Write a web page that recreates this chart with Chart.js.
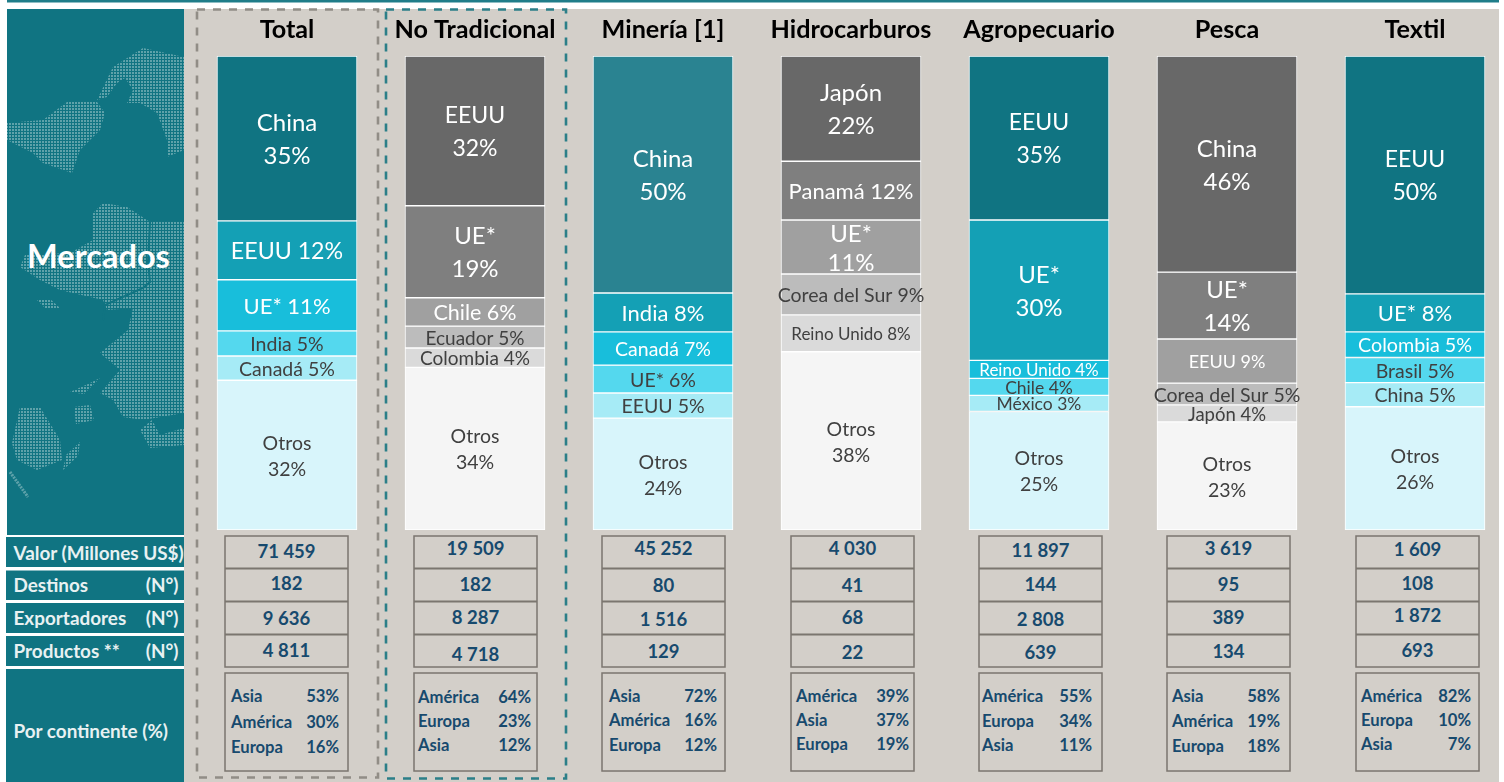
<!DOCTYPE html>
<html lang="es">
<head>
<meta charset="utf-8">
<title>Mercados</title>
<script src="https://cdn.jsdelivr.net/npm/chart.js@4/dist/chart.umd.min.js"></script>
<style>
  html, body { margin: 0; width: 1504px; height: 782px; overflow: hidden; background: #fff; }
  #backdrop { position: absolute; left: 0; top: 0; }
  #chart { position: absolute; left: 193px; top: 0; }
  text { font-family: Lato, sans-serif; }
</style>
</head>
<body>
<svg id="backdrop" width="1504" height="782" xmlns="http://www.w3.org/2000/svg"></svg>
<canvas id="chart" width="1316" height="782"></canvas>
<script>
  const sectors = ["Total", "No Tradicional", "Minería [1]", "Hidrocarburos", "Agropecuario", "Pesca", "Textil"];

  // destinations per sector, top to bottom, shares
  const totalMarkets = ["China", "EEUU", "UE*", "India", "Canadá", "Otros"];
  const totalShares = [34.8, 12.4, 10.8, 5.3, 5.1, 31.6];
  const noTradMarkets = ["EEUU", "UE*", "Chile", "Ecuador", "Colombia", "Otros"];
  const noTradShares = [31.6, 19.4, 6.0, 4.6, 4.1, 34.3];
  const mineriaMarkets = ["China", "India", "Canadá", "UE*", "EEUU", "Otros"];
  const mineriaShares = [50.0, 8.2, 7.0, 5.9, 5.3, 23.6];
  const hidroMarkets = ["Japón", "Panamá", "UE*", "Corea del Sur", "Reino Unido", "Otros"];
  const hidroShares = [22.2, 12.4, 11.4, 8.6, 7.8, 37.6];
  const agroMarkets = ["EEUU", "UE*", "Reino Unido", "Chile", "México", "Otros"];
  const agroShares = [34.6, 29.6, 3.8, 3.6, 3.4, 25.0];
  const pescaMarkets = ["China", "UE*", "EEUU", "Corea del Sur", "Japón", "Otros"];
  const pescaShares = [45.6, 14.1, 9.3, 4.6, 3.6, 22.8];
  const textilMarkets = ["EEUU", "UE*", "Colombia", "Brasil", "China", "Otros"];
  const textilShares = [50.2, 8.0, 5.4, 5.3, 5.1, 26.0];

  const valorMillones = ["71 459", "19 509", "45 252", "4 030", "11 897", "3 619", "1 609"];
  const destinos = ["182", "182", "80", "41", "144", "95", "108"];
  const exportadores = ["9 636", "8 287", "1 516", "68", "2 808", "389", "1 872"];
  const productos = ["4 811", "4 718", "129", "22", "639", "134", "693"];

  const continentNames = [
    ["Asia", "América", "Europa"],
    ["América", "Europa", "Asia"],
    ["Asia", "América", "Europa"],
    ["América", "Asia", "Europa"],
    ["América", "Europa", "Asia"],
    ["Asia", "América", "Europa"],
    ["América", "Europa", "Asia"],
  ];
  const continentShares = [
    ["53%", "30%", "16%"],
    ["64%", "23%", "12%"],
    ["72%", "16%", "12%"],
    ["39%", "37%", "19%"],
    ["55%", "34%", "11%"],
    ["58%", "19%", "18%"],
    ["82%", "10%", "7%"],
  ];

  const marketLists = [totalMarkets, noTradMarkets, mineriaMarkets, hidroMarkets, agroMarkets, pescaMarkets, textilMarkets];
  const shareLists = [totalShares, noTradShares, mineriaShares, hidroShares, agroShares, pescaShares, textilShares];

  // styles, not data
  const TEAL = ["#107482", "#14a0b5", "#18bedb", "#54d8ee", "#a6ebf6", "#d8f5fb"];
  const GREY = ["#686868", "#7f7f7f", "#a0a0a0", "#bcbcbc", "#dadada", "#f5f5f5"];
  const COLUMN_PALETTES = [TEAL, GREY, ["#2a8391", ...TEAL.slice(1)], GREY, TEAL, GREY, TEAL];
  const LABEL_SIZES = [
    [24, 23.2, 22, 19.5, 19.5, 19.5],
    [23, 24, 21.5, 19, 19, 19.5],
    [24, 22, 19.5, 19.5, 19.5, 19.5],
    [24, 22, 24, 19.5, 17, 19.5],
    [23, 24, 17, 17.5, 17.5, 19.5],
    [24, 24, 18, 19.5, 18.5, 19.5],
    [23, 22, 19.7, 19.5, 19.5, 19.5],
  ];
  const LABEL_STACKED = [
    [1, 0, 0, 0, 0, 1],
    [1, 1, 0, 0, 0, 1],
    [1, 0, 0, 0, 0, 1],
    [1, 0, 1, 0, 0, 1],
    [1, 1, 0, 0, 0, 1],
    [1, 1, 0, 0, 0, 1],
    [1, 0, 0, 0, 0, 1],
  ];
  const BOX_LEFT = [225, 414, 602, 791, 979, 1167, 1356];
  const BOX_WIDTH = 123;
  const CONTINENT_LEFT = [6, 4, 7, 5, 3, 5, 5];
  const CONTINENT_RIGHT = [114, 117, 115, 118, 113, 113, 115];
  const CELL_Y = [
    [551, 583, 618, 650],
    [548, 584, 617, 654],
    [548, 585, 619, 651],
    [548, 585, 617, 652],
    [550, 584, 619, 652],
    [548, 584, 617, 651],
    [549, 583, 615, 650],
  ];
  const CONTINENT_Y = [
    [696, 722, 747],
    [697, 721, 745],
    [696, 720, 745],
    [696, 720, 744],
    [696, 721, 745],
    [696, 721, 746],
    [696, 720, 744],
  ];
  const INK = "#174a6e";

  const svg = document.getElementById("backdrop");
  const NS = "http://www.w3.org/2000/svg";

  function add(tag, attrs, content, parent) {
    const el = document.createElementNS(NS, tag);
    Object.keys(attrs).forEach((k) => el.setAttribute(k, attrs[k]));
    if (content) el.textContent = content;
    (parent || svg).appendChild(el);
    return el;
  }

  function drawBackdrop() {
    add("rect", { x: 7, y: 0, width: 1492, height: 2.5, fill: "#1f7d89" });
    add("rect", { x: 184, y: 9, width: 1315, height: 773, fill: "#d3cfc9" });
    add("rect", { x: 7, y: 9, width: 177, height: 526, fill: "#107482" });

    // dotted map behind "Mercados"
    const defs = add("defs", {});
    const pattern = add("pattern", { id: "dots", width: 3, height: 3, patternUnits: "userSpaceOnUse" }, null, defs);
    add("rect", { width: 3, height: 3, fill: "#107482" }, null, pattern);
    add("rect", { width: 2, height: 2, fill: "#5ea2aa" }, null, pattern);
    const land = [
      "97,100 113,67 143,48 184,57 184,150 167,157 167,140 157,113 140,103 127,103 133,90 125,78 117,83 107,97",
      "7,123 43,120 67,102 97,102 105,113 100,130 80,150 72,173 43,163 33,153 7,140",
      "93,213 103,203 127,207 150,222 184,222 184,413 143,420 123,417 113,400 100,393 120,370 100,353 128,330 133,308 107,310 103,300 60,290 40,280 20,267 25,255 70,253 93,240",
      "12,443 20,407 40,407 60,440 62,460 37,470 17,460",
      "63,470 66,455 80,442 78,456",
      "74,407 90,405 94,420 76,424",
      "37,300 50,299 60,308 46,309",
      "140,430 152,420 160,435 184,428 184,445 150,448",
      "70,392 88,384 100,378 84,394",
    ];
    land.forEach((points) => add("polygon", { points, fill: "url(#dots)" }));
    add("polyline", { points: "150,222 148,262 150,282 143,288 105,305 103,320", fill: "none", stroke: "#107482", "stroke-width": 2 });
    add("polyline", { points: "10,472 28,497", fill: "none", stroke: "#5ea2aa", "stroke-width": 3, "stroke-dasharray": "2 1" });
    add("text", { x: 98.5, y: 255, "font-size": 32.5, "font-weight": 700, fill: "#fff", "text-anchor": "middle", "dominant-baseline": "central" }, "Mercados");

    // row headers
    const rows = [
      [537, 30, "Valor (Millones US$)", "", 552],
      [570.5, 29.5, "Destinos", "(N°)", 584.5],
      [603, 30, "Exportadores", "(N°)", 617],
      [636, 30, "Productos **", "(N°)", 650.5],
      [669, 113, "Por continente (%)", "", 730],
    ];
    rows.forEach(([y, h, label, unit, textY]) => {
      add("rect", { x: 6, y, width: 178, height: h, fill: "#107482" });
      const attrs = { y: textY, "font-size": 18.9, "font-weight": 700, fill: "#e8f1f2", "dominant-baseline": "central" };
      add("text", { ...attrs, x: 13.5 }, label);
      if (unit) add("text", { ...attrs, x: 178.5, "text-anchor": "end" }, unit);
    });

    // dashed frames around Total and No Tradicional
    const dash = { fill: "none", "stroke-width": 2.6, "stroke-dasharray": "8 8" };
    add("rect", { ...dash, x: 197, y: 9.5, width: 181, height: 768, stroke: "#918d86" });
    add("rect", { ...dash, x: 386, y: 9.5, width: 180, height: 769, stroke: "#2b7f88" });

    // table below the bars
    const rowsByMetric = [valorMillones, destinos, exportadores, productos];
    BOX_LEFT.forEach((left, c) => {
      const line = { fill: "none", stroke: "#7b766f", "stroke-width": 1.5 };
      add("rect", { ...line, x: left, y: 536, width: BOX_WIDTH, height: 131 });
      [568.5, 601.5, 634.5].forEach((y) => add("line", { ...line, x1: left, x2: left + BOX_WIDTH, y1: y, y2: y, "stroke-width": 2 }));
      add("rect", { ...line, x: left, y: 673, width: BOX_WIDTH, height: 98 });
      rowsByMetric.forEach((row, r) => {
        add("text", { x: left + BOX_WIDTH / 2, y: CELL_Y[c][r], "font-size": 18.5, "font-weight": 700, fill: INK, "text-anchor": "middle", "dominant-baseline": "central" }, row[c]);
      });
      continentNames[c].forEach((name, r) => {
        const attrs = { y: CONTINENT_Y[c][r], "font-size": 16.6, "font-weight": 700, fill: INK, "dominant-baseline": "central" };
        add("text", { ...attrs, x: left + CONTINENT_LEFT[c] }, name);
        add("text", { ...attrs, x: left + CONTINENT_RIGHT[c], "text-anchor": "end" }, continentShares[c][r]);
      });
    });
  }

  const segmentLabels = {
    id: "segmentLabels",
    afterDatasetsDraw(chart) {
      const { ctx } = chart;
      ctx.save();
      ctx.textAlign = "center";
      ctx.textBaseline = "middle";
      chart.data.datasets.forEach((ds, rank) => {
        chart.getDatasetMeta(rank).data.forEach((bar, c) => {
          const { x, y, base } = bar.getProps(["x", "y", "base"], true);
          const size = LABEL_SIZES[c][rank];
          const name = marketLists[c][rank];
          const pct = `${Math.round(shareLists[c][rank])}%`;
          const mid = (y + base) / 2 + 1.4;
          ctx.font = `${size}px Lato`;
          ctx.fillStyle = rank < 3 ? "#fff" : "#404040";
          if (LABEL_STACKED[c][rank]) {
            const gap = size >= 22 ? (c === 3 && rank === 2 ? 14.5 : 16.5) : 13;
            ctx.fillText(name, x, mid - gap);
            ctx.fillText(pct, x, mid + gap);
          } else {
            ctx.fillText(`${name} ${pct}`, x, mid);
          }
        });
      });
      ctx.restore();
    },
  };

  function initChart() {
    const datasets = totalShares.map((_, rank) => ({
      label: `Destino ${rank + 1}`,
      data: shareLists.map((list) => list[rank]),
      backgroundColor: COLUMN_PALETTES.map((palette) => palette[rank]),
      borderColor: "#fff",
      borderWidth: 1,
      borderSkipped: false,
      barThickness: 140,
    }));

    new Chart(document.getElementById("chart"), {
      type: "bar",
      data: { labels: sectors, datasets },
      options: {
        responsive: false,
        animation: false,
        layout: { padding: { top: 0, bottom: 252, left: 0, right: 0 } },
        plugins: { legend: { display: false }, tooltip: { enabled: false } },
        scales: {
          x: {
            position: "top",
            stacked: true,
            grid: { display: false, drawTicks: false },
            border: { display: false },
            ticks: { color: "#000", padding: 11, maxRotation: 0, autoSkip: false, font: { family: "Lato", size: 25.2, weight: "bold" } },
            afterFit: (scale) => { scale.height = 56; },
          },
          y: { display: false, stacked: true, reverse: true, min: 0, max: 100 },
        },
      },
      plugins: [segmentLabels],
    });
  }

  drawBackdrop();
  initChart();
</script>
</body>
</html>
